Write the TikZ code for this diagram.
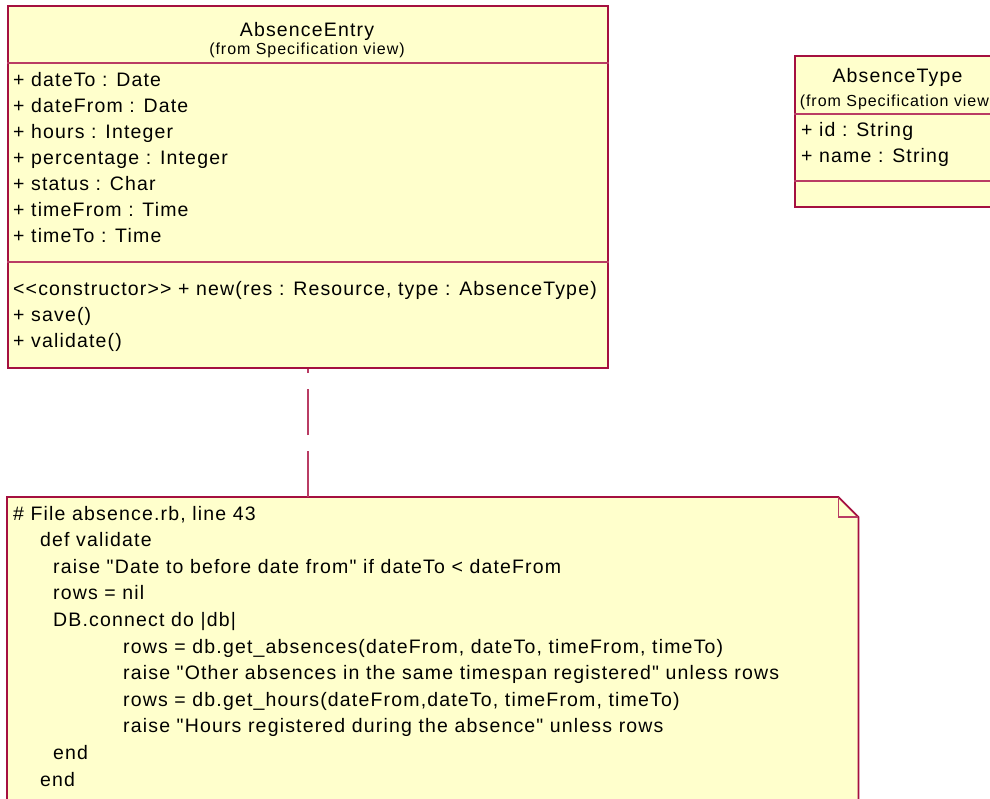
\documentclass[tikz,border=0pt]{standalone}
\usepackage{fontspec}
\setmainfont{Liberation Sans}
\newfontfamily\umlfont{Liberation Sans}[LetterSpace=6]
\definecolor{umlfill}{RGB}{255,255,204}
\definecolor{umlline}{RGB}{165,16,64}
\definecolor{umlsep}{RGB}{185,60,100}
\tikzset{
  classbox/.style={draw=umlline, fill=umlfill, line width=1.7pt, inner sep=0pt, anchor=north west},
  sepline/.style={draw=umlsep, line width=1.4pt},
  member/.style={anchor=base west, inner sep=0pt, font=\umlfont\fontsize{19.5}{22}\selectfont},
  classname/.style={anchor=base, inner sep=0pt, font=\umlfont\fontsize{19.5}{22}\selectfont},
  pkgname/.style={anchor=base, inner sep=0pt, font=\umlfont\fontsize{16}{18}\selectfont},
  anchorline/.style={draw=umlsep, line width=1.5pt, dash pattern=on 46pt off 16pt},
}
\begin{document}
\begin{tikzpicture}[x=1pt, y=-1pt]
\useasboundingbox (0,0) rectangle (990,798);
\clip (0,0) rectangle (990,798);

% class AbsenceEntry
\node[classbox, minimum width=600, minimum height=362] (entry) at (7,5) {};
\draw[sepline] (entry.west |- 0,63) -- (entry.east |- 0,63);
\draw[sepline] (entry.west |- 0,262) -- (entry.east |- 0,262);
\node[classname] (entry-name) at (307,36) {AbsenceEntry};
\node[pkgname] (entry-pkg) at (307,54) {(from Specification view)};
\node[member] (entry-a1) at (13,86) {+ dateTo : Date};
\node[member] (entry-a2) at (13,112) {+ dateFrom : Date};
\node[member] (entry-a3) at (13,138) {+ hours : Integer};
\node[member] (entry-a4) at (13,164) {+ percentage : Integer};
\node[member] (entry-a5) at (13,190) {+ status : Char};
\node[member] (entry-a6) at (13,216) {+ timeFrom : Time};
\node[member] (entry-a7) at (13,242) {+ timeTo : Time};
\node[member] (entry-o1) at (13,295) {{<}{<}constructor{>}{>} + new(res : Resource, type : AbsenceType)};
\node[member] (entry-o2) at (13,321) {+ save()};
\node[member] (entry-o3) at (13,347) {+ validate()};

% class AbsenceType
\node[classbox, minimum width=207, minimum height=151] (type) at (794,55) {};
\draw[sepline] (type.west |- 0,114) -- (type.east |- 0,114);
\draw[sepline] (type.west |- 0,181) -- (type.east |- 0,181);
\node[classname] (type-name) at (897.5,82) {AbsenceType};
\node[pkgname] (type-pkg) at (897.5,106) {(from Specification view)};
\node[member] (type-a1) at (801,136) {+ id : String};
\node[member] (type-a2) at (801,162) {+ name : String};

% note with the validate source
\node[inner sep=0pt, minimum width=851, minimum height=400, anchor=north west] (note) at (7,497) {};
\draw[umlline, fill=umlfill, line width=1.7pt]
  (note.south west) -- (note.north west) -- ([xshift=-20pt]note.north east)
  -- ([yshift=-20pt]note.north east) -- (note.south east) -- cycle;
\draw[sepline] ([xshift=-20pt]note.north east) -- ++(0,20) -- ++(20,0);
\node[member] (src1) at (13,520) {\# File absence.rb, line 43};
\node[member] (src2) at (40,546.6) {def validate};
\node[member] (src3) at (53,573.2) {raise "Date to before date from" if dateTo < dateFrom};
\node[member] (src4) at (53,599.8) {rows = nil};
\node[member] (src5) at (53,626.4) {DB.connect do |db|};
\node[member] (src6) at (123,653) {rows = db.get\_absences(dateFrom, dateTo, timeFrom, timeTo)};
\node[member] (src7) at (123,679.6) {raise "Other absences in the same timespan registered" unless rows};
\node[member] (src8) at (123,706.2) {rows = db.get\_hours(dateFrom,dateTo, timeFrom, timeTo)};
\node[member] (src9) at (123,732.8) {raise "Hours registered during the absence" unless rows};
\node[member] (src10) at (53,759.4) {end};
\node[member] (src11) at (40,786) {end};

% note anchor
\draw[anchorline] (note.north -| entry.south) -- (entry.south);
\end{tikzpicture}
\end{document}
